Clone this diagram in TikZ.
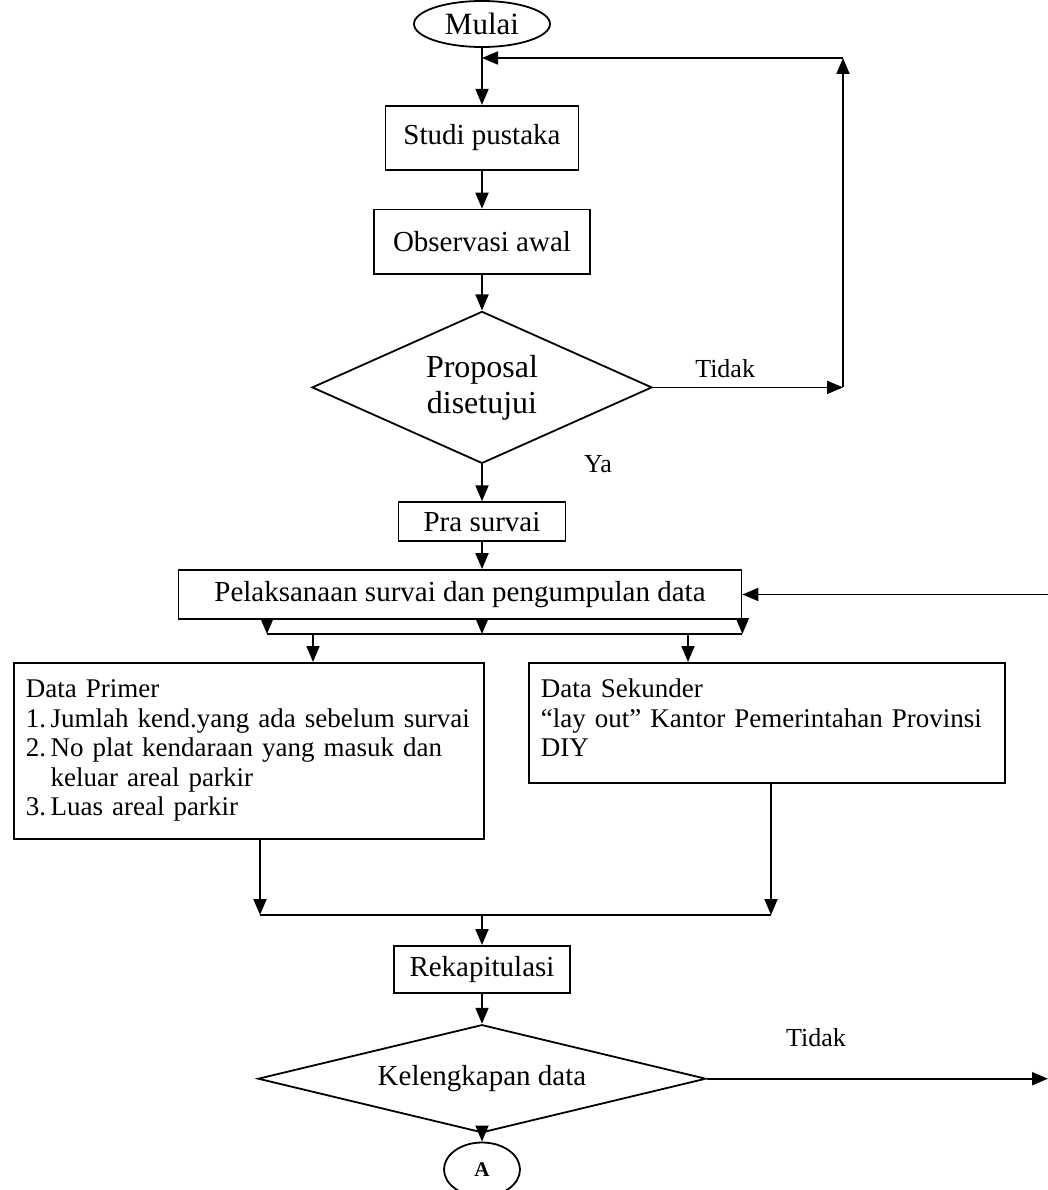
\documentclass[tikz,border=0pt]{standalone}
\usepackage{fontspec}
\setmainfont{Liberation Serif}
\usetikzlibrary{positioning, arrows.meta, shapes.geometric}

\begin{document}
\begin{tikzpicture}[
	font=\fontsize{29pt}{32pt}\selectfont,
	line width=1.8pt,
	% Define styles
	terminal/.style={ellipse, draw, minimum width=136pt, minimum height=46pt, inner sep=0pt, font=\fontsize{31pt}{34pt}\selectfont},
	process/.style={rectangle, draw, minimum width=193pt, minimum height=64pt, inner sep=0pt},
	decision/.style={diamond, draw, inner sep=0pt, align=center},
	databox/.style={rectangle, draw, anchor=north west, align=left, inner xsep=12pt, font=\fontsize{27pt}{29.5pt}\selectfont},
	connector/.style={ellipse, draw, minimum width=76pt, minimum height=54pt, inner sep=0pt, font=\fontsize{21pt}{23pt}\selectfont\bfseries},
	branch/.style={font=\fontsize{26pt}{28pt}\selectfont},
	arrow/.style={-{Triangle[length=16pt, width=13pt]}}
	]
	
	% page frame
	\useasboundingbox (0,0) rectangle (1048pt,-1190pt);
	\coordinate (edgeR) at (1048pt,0pt);
	
	% 1. Start and literature
	\node[terminal] (mulai) at (482pt,-24pt) {Mulai};
	\node[process, below=57pt of mulai] (studi) {Studi pustaka};
	\node[process, below=38pt of studi, minimum width=216pt] (observasi) {Observasi awal};
	
	% 2. Proposal check
	\node[decision, below=36pt of observasi, aspect=2.2, minimum width=340pt, minimum height=152pt, font=\fontsize{32pt}{36pt}\selectfont] (proposal) {Proposal\\disetujui};
	\node[branch, right=98pt of proposal.south] (ya) {Ya};
	\coordinate (loopR) at (843pt,-58pt);
	
	\draw[arrow] (mulai) -- (studi);
	\draw[arrow] (studi) -- (observasi);
	\draw[arrow] (observasi) -- (proposal);
	\draw[arrow] (proposal.east) -- node[branch, pos=0.38, above=5pt] (tidak) {Tidak} (proposal.east -| loopR);
	\draw[arrow] (proposal.east -| loopR) -- (loopR);
	\draw[arrow] (loopR) -- (loopR -| mulai);
	
	% 3. Survey
	\node[process, below=37pt of proposal, minimum width=167pt, minimum height=39pt] (pra) {Pra survai};
	\node[process, below=27pt of pra, xshift=-22pt, minimum width=563pt, minimum height=49pt] (survai) {Pelaksanaan survai dan pengumpulan data};
	
	\draw[arrow] (proposal) -- (pra);
	\draw[arrow] (pra) -- (pra |- survai.north);
	\draw[arrow] (survai.east -| edgeR) -- (survai.east);
	
	% bus below the survey box
	\coordinate (busL) at (267pt,-634pt);
	\coordinate (busR) at (survai.south east |- busL);
	\coordinate (inP) at (313pt,-662pt);
	\coordinate (inS) at (688pt,-662pt);
	\draw[arrow] (survai.south -| busL) -- (busL);
	\draw[arrow] (survai.south -| pra) -- (busL -| pra);
	\draw[arrow] (survai.south east) -- (busR);
	\draw (busL) -- (busR);
	\draw[arrow] (busL -| inP) -- (inP);
	\draw[arrow] (busL -| inS) -- (inS);
	
	% 4. Data
	\node[databox, text width=446pt, minimum height=176pt] (primer) at (13pt,-662pt) {Data Primer\\
		1.\,Jumlah kend.yang ada sebelum survai\\
		2.\,No plat kendaraan yang masuk dan\\
		\phantom{2.\,}keluar areal parkir\\
		3.\,Luas areal parkir};
	\node[databox, text width=452pt, minimum height=120pt] (sekunder) at (528pt,-662pt) {Data Sekunder\\
		“lay out” Kantor Pemerintahan Provinsi\\
		DIY\vspace{10pt}};
	
	\coordinate (joinL) at (260pt,-915pt);
	\coordinate (joinR) at (771pt,-915pt);
	\coordinate (join) at (joinL -| pra);
	\draw[arrow] (primer.south -| joinL) -- (joinL);
	\draw[arrow] (sekunder.south -| joinR) -- (joinR);
	\draw (joinL) -- (joinR);
	
	% 5. Recap and completeness
	\node[process, below=30pt of join, minimum width=176pt, minimum height=47pt] (rekap) {Rekapitulasi};
	\node[decision, below=30pt of rekap, aspect=4.2, minimum width=448pt, minimum height=108pt] (lengkap) {Kelengkapan data};
	\node[connector, below=8pt of lengkap] (a) {A};
	
	\draw[arrow] (join) -- (rekap);
	\draw[arrow] (rekap) -- (lengkap);
	\draw[arrow] (lengkap.east) -- node[branch, pos=0.32, above=28pt] (tidak2) {Tidak} (lengkap.east -| edgeR);
	\draw[arrow] (lengkap) -- (a);
\end{tikzpicture}
\end{document}
